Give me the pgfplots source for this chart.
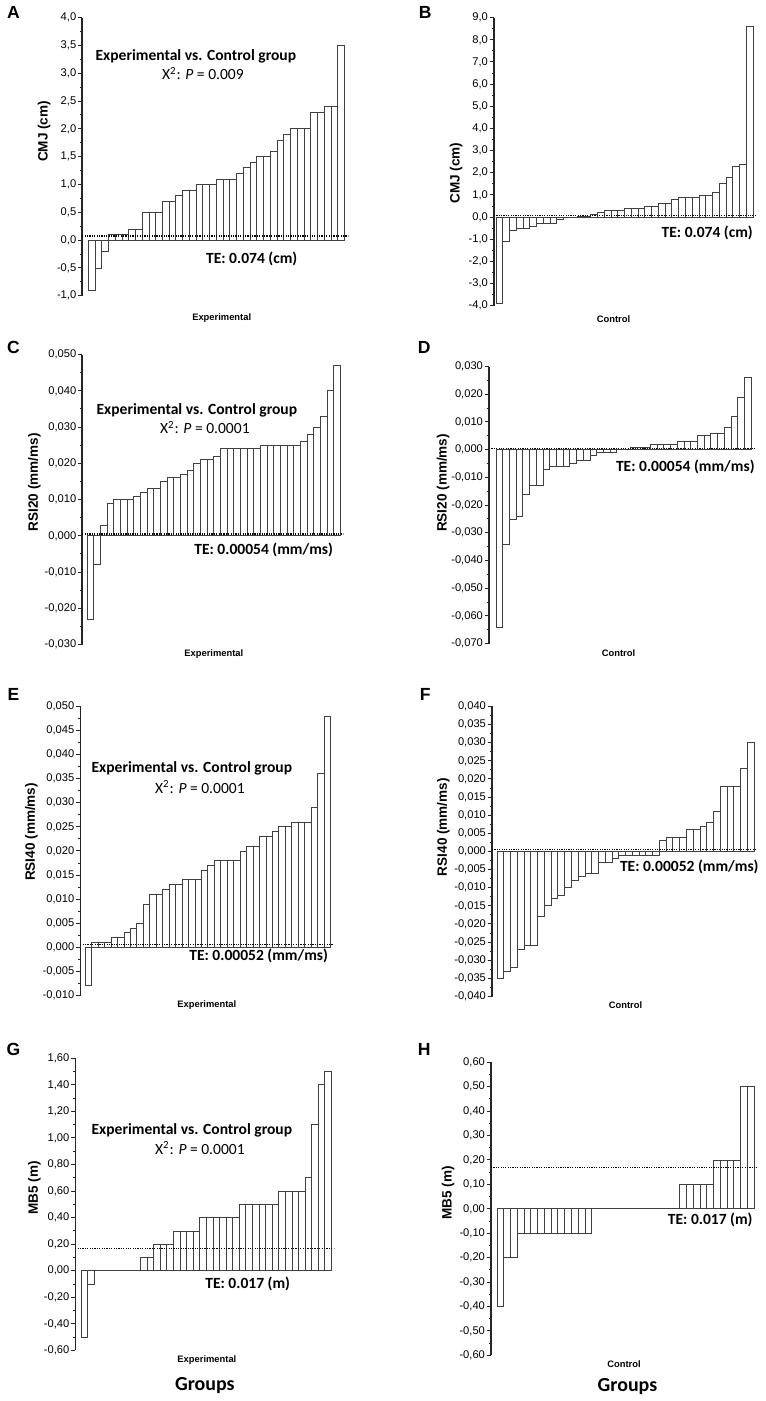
\documentclass[border=0pt]{standalone}
\usepackage{fontspec}
\setmainfont{Liberation Sans}
\newfontfamily\cali{Carlito}
\usepackage{pgfplots}
\usepackage{pgfplotstable}
\pgfplotsset{compat=1.18}

\pgfplotstableread[row sep=\\]{v\\-0.9\\-0.5\\-0.2\\0.1\\0.1\\0.1\\0.2\\0.2\\0.5\\0.5\\0.5\\0.7\\0.7\\0.8\\0.9\\0.9\\1.0\\1.0\\1.0\\1.1\\1.1\\1.1\\1.2\\1.3\\1.4\\1.5\\1.5\\1.6\\1.8\\1.9\\2.0\\2.0\\2.0\\2.3\\2.3\\2.4\\2.4\\3.5\\}\dA
\pgfplotstableread[row sep=\\]{v\\-3.9\\-1.1\\-0.6\\-0.5\\-0.5\\-0.4\\-0.3\\-0.3\\-0.3\\-0.1\\-0.02\\-0.02\\0.02\\0.05\\0.1\\0.2\\0.3\\0.3\\0.3\\0.4\\0.4\\0.4\\0.5\\0.5\\0.6\\0.6\\0.8\\0.9\\0.9\\0.9\\1.0\\1.0\\1.1\\1.5\\1.8\\2.3\\2.4\\8.6\\}\dB
\pgfplotstableread[row sep=\\]{v\\-0.023\\-0.008\\0.003\\0.009\\0.010\\0.010\\0.010\\0.011\\0.012\\0.013\\0.013\\0.015\\0.016\\0.016\\0.017\\0.018\\0.020\\0.021\\0.021\\0.022\\0.024\\0.024\\0.024\\0.024\\0.024\\0.024\\0.025\\0.025\\0.025\\0.025\\0.025\\0.025\\0.026\\0.028\\0.030\\0.033\\0.040\\0.047\\}\dC
\pgfplotstableread[row sep=\\]{v\\-0.064\\-0.034\\-0.025\\-0.024\\-0.016\\-0.013\\-0.013\\-0.007\\-0.006\\-0.006\\-0.006\\-0.005\\-0.004\\-0.004\\-0.002\\-0.001\\-0.001\\-0.001\\0\\0\\0.001\\0.001\\0.001\\0.002\\0.002\\0.002\\0.002\\0.003\\0.003\\0.003\\0.005\\0.005\\0.006\\0.006\\0.008\\0.012\\0.019\\0.026\\}\dD
\pgfplotstableread[row sep=\\]{v\\-0.008\\0.001\\0.001\\0.001\\0.002\\0.002\\0.003\\0.004\\0.005\\0.009\\0.011\\0.011\\0.012\\0.013\\0.013\\0.014\\0.014\\0.014\\0.016\\0.017\\0.018\\0.018\\0.018\\0.018\\0.020\\0.021\\0.021\\0.023\\0.023\\0.024\\0.025\\0.025\\0.026\\0.026\\0.026\\0.029\\0.036\\0.048\\}\dE
\pgfplotstableread[row sep=\\]{v\\-0.035\\-0.033\\-0.032\\-0.027\\-0.026\\-0.026\\-0.018\\-0.015\\-0.013\\-0.012\\-0.010\\-0.008\\-0.007\\-0.006\\-0.006\\-0.003\\-0.003\\-0.002\\-0.001\\-0.001\\-0.001\\-0.001\\-0.001\\-0.001\\0.003\\0.004\\0.004\\0.004\\0.006\\0.006\\0.007\\0.008\\0.011\\0.018\\0.018\\0.018\\0.023\\0.030\\}\dF
\pgfplotstableread[row sep=\\]{v\\-0.5\\-0.1\\0\\0\\0\\0\\0\\0\\0\\0.1\\0.1\\0.2\\0.2\\0.2\\0.3\\0.3\\0.3\\0.3\\0.4\\0.4\\0.4\\0.4\\0.4\\0.4\\0.5\\0.5\\0.5\\0.5\\0.5\\0.5\\0.6\\0.6\\0.6\\0.6\\0.7\\1.1\\1.4\\1.5\\}\dG
\pgfplotstableread[row sep=\\]{v\\-0.4\\-0.2\\-0.2\\-0.1\\-0.1\\-0.1\\-0.1\\-0.1\\-0.1\\-0.1\\-0.1\\-0.1\\-0.1\\-0.1\\0\\0\\0\\0\\0\\0\\0\\0\\0\\0\\0\\0\\0\\0.1\\0.1\\0.1\\0.1\\0.1\\0.2\\0.2\\0.2\\0.2\\0.5\\0.5\\}\dH

\pgfplotsset{
  panel/.style={
    scale only axis, anchor=north west,
    axis lines*=left,
    x axis line style={draw=none},
    y axis line style={line width=0.75pt, draw=black!85},
    xtick=\empty,
    ytick pos=left, tick align=outside,
    major tick length=2.2pt, minor tick length=1.2pt,
    minor y tick num=1,
    every tick/.style={draw=black!85, line width=0.5pt},
    scaled y ticks=false,
    ylabel style={font=\bfseries\fontsize{6.8}{7.5}\selectfont, anchor=center},
    xlabel style={font=\bfseries\fontsize{4.7}{5}\selectfont, anchor=center},
  },
  prec/.style={y tick label style={font=\fontsize{5.6}{6}\selectfont, inner sep=0.6pt, /pgf/number format/.cd, fixed, fixed zerofill, precision=#1, use comma, assume math mode=true, /tikz/.cd}},
  bars/.style={ybar, bar width=1, fill=white, draw=black!75, line width=0.4pt},
  te/.style={black, line width=0.6pt, dash pattern=on 0.6pt off 0.6pt},
}

\begin{document}
\begin{tikzpicture}
\path (0,0) rectangle (380pt,-700.5pt);

% A
\begin{axis}[panel, prec=1, at={(40pt,-8pt)}, width=133.5pt, height=139.5pt,
  xmin=-0.387, xmax=39.09, ymin=-1, ymax=4,
  ytick={-1,-0.5,0,0.5,1,1.5,2,2.5,3,3.5,4},
  ylabel={CMJ (cm)}, ylabel style={at={(axis description cs:-0.143,0.591)}},
  xlabel={Experimental}, xlabel style={at={(axis description cs:0.524,-0.082)}}]
\addplot[bars] table[x expr=\coordindex+1, y=v]{\dA};
\addplot[te] coordinates {(-0.387,0.074) (39.09,0.074)};
\end{axis}

% B
\begin{axis}[panel, prec=1, at={(246.5pt,-8pt)}, width=131.5pt, height=144.5pt,
  xmin=0.206, xmax=38.94, ymin=-4, ymax=9,
  ytick={-4,-3,-2,-1,0,1,2,3,4,5,6,7,8,9},
  ylabel={CMJ (cm)}, ylabel style={at={(axis description cs:-0.144,0.46)}},
  xlabel={Control}, xlabel style={at={(axis description cs:0.456,-0.045)}}]
\addplot[bars] table[x expr=\coordindex+1, y=v]{\dB};
\addplot[te] coordinates {(0.206,0.074) (38.94,0.074)};
\end{axis}

% C
\begin{axis}[panel, prec=3, at={(40pt,-177pt)}, width=131pt, height=145.5pt,
  xmin=-0.248, xmax=38.95, ymin=-0.03, ymax=0.05,
  ytick={-0.03,-0.02,-0.01,0,0.01,0.02,0.03,0.04,0.05},
  ylabel={RSI20 (mm/ms)}, ylabel style={at={(axis description cs:-0.183,0.56)}},
  xlabel={Experimental}, xlabel style={at={(axis description cs:0.504,-0.031)}}]
\addplot[bars] table[x expr=\coordindex+1, y=v]{\dC};
\addplot[te] coordinates {(-0.248,0.00054) (38.95,0.00054)};
\end{axis}

% D
\begin{axis}[panel, prec=3, at={(244pt,-183pt)}, width=133.5pt, height=139pt,
  xmin=-0.539, xmax=39.09, ymin=-0.07, ymax=0.03,
  ytick={-0.07,-0.06,-0.05,-0.04,-0.03,-0.02,-0.01,0,0.01,0.02,0.03},
  ylabel={RSI20 (mm/ms)}, ylabel style={at={(axis description cs:-0.172,0.58)}},
  xlabel={Control}, xlabel style={at={(axis description cs:0.487,-0.036)}}]
\addplot[bars] table[x expr=\coordindex+1, y=v]{\dD};
\addplot[te] coordinates {(-0.539,0.00054) (39.09,0.00054)};
\end{axis}

% E
\begin{axis}[panel, prec=3, at={(39pt,-353.5pt)}, width=127pt, height=145pt,
  xmin=-0.27, xmax=38.96, ymin=-0.01, ymax=0.05,
  ytick={-0.01,-0.005,0,0.005,0.01,0.015,0.02,0.025,0.03,0.035,0.04,0.045,0.05},
  ylabel={RSI40 (mm/ms)}, ylabel style={at={(axis description cs:-0.193,0.566)}},
  xlabel={Experimental}, xlabel style={at={(axis description cs:0.5,-0.034)}}]
\addplot[bars] table[x expr=\coordindex+1, y=v]{\dE};
\addplot[te] coordinates {(-0.27,0.00052) (38.96,0.00052)};
\end{axis}

% F
\begin{axis}[panel, prec=3, at={(245.5pt,-353.5pt)}, width=133pt, height=145.5pt,
  xmin=-0.236, xmax=38.94, ymin=-0.04, ymax=0.04,
  ytick={-0.04,-0.035,-0.03,-0.025,-0.02,-0.015,-0.01,-0.005,0,0.005,0.01,0.015,0.02,0.025,0.03,0.035,0.04},
  ylabel={RSI40 (mm/ms)}, ylabel style={at={(axis description cs:-0.183,0.584)}},
  xlabel={Control}, xlabel style={at={(axis description cs:0.504,-0.031)}}]
\addplot[bars] table[x expr=\coordindex+1, y=v]{\dF};
\addplot[te] coordinates {(-0.236,0.00052) (38.94,0.00052)};
\end{axis}

% G
\begin{axis}[panel, prec=2, at={(36.5pt,-530pt)}, width=130pt, height=146.5pt,
  xmin=-0.41, xmax=38.95, ymin=-0.6, ymax=1.6,
  ytick={-0.6,-0.4,-0.2,0,0.2,0.4,0.6,0.8,1.0,1.2,1.4,1.6},
  ylabel={MB5 (m)}, ylabel style={at={(axis description cs:-0.158,0.556)}},
  xlabel={Experimental}, xlabel style={at={(axis description cs:0.508,-0.034)}}]
\addplot[bars] table[x expr=\coordindex+1, y=v]{\dG};
\addplot[te] coordinates {(-0.41,0.17) (38.95,0.17)};
\end{axis}

% H
\begin{axis}[panel, prec=2, at={(245pt,-532pt)}, width=133.5pt, height=147pt,
  xmin=-0.384, xmax=38.94, ymin=-0.6, ymax=0.6,
  ytick={-0.6,-0.5,-0.4,-0.3,-0.2,-0.1,0,0.1,0.2,0.3,0.4,0.5,0.6},
  ylabel={MB5 (m)}, ylabel style={at={(axis description cs:-0.161,0.554)}},
  xlabel={Control}, xlabel style={at={(axis description cs:0.5,-0.03)}}]
\addplot[bars] table[x expr=\coordindex+1, y=v]{\dH};
\addplot[te] coordinates {(-0.384,0.17) (38.94,0.17)};
\end{axis}

\begin{scope}[x=0.5pt,y=-0.5pt]
\tikzset{lett/.style={font=\bfseries\fontsize{8.8}{9}\selectfont},
  ann/.style={font=\cali\bfseries\fontsize{7.8}{8}\selectfont},
  chi/.style={font=\cali\fontsize{7.8}{8}\selectfont},
  grp/.style={font=\cali\bfseries\fontsize{10}{11}\selectfont}}
\node[lett] at (11,11) {A};
\node[lett] at (424,11) {B};
\node[lett] at (11,347) {C};
\node[lett] at (423,347) {D};
\node[lett] at (11,695) {E};
\node[lett] at (424,695) {F};
\node[lett] at (11,1051) {G};
\node[lett] at (423,1051) {H};

\node[ann] at (194,55) {Experimental vs. Control group};
\node[chi] at (201,72) {X\textsuperscript{2}: \textit{P} = 0.009};
\node[ann] at (250,258) {TE: 0.074 (cm)};
\node[ann] at (707,232) {TE: 0.074 (cm)};

\node[ann] at (195,410) {Experimental vs. Control group};
\node[chi] at (203,427) {X\textsuperscript{2}: \textit{P} = 0.0001};
\node[ann] at (262,550) {TE: 0.00054 (mm/ms)};
\node[ann] at (685,467) {TE: 0.00054 (mm/ms)};

\node[ann] at (190,769) {Experimental vs. Control group};
\node[chi] at (198,788) {X\textsuperscript{2}: \textit{P} = 0.0001};
\node[ann] at (257,957) {TE: 0.00052 (mm/ms)};
\node[ann] at (689,868) {TE: 0.00052 (mm/ms)};

\node[ann] at (190,1132) {Experimental vs. Control group};
\node[chi] at (198,1150) {X\textsuperscript{2}: \textit{P} = 0.0001};
\node[ann] at (246,1286) {TE: 0.017 (m)};
\node[ann] at (710,1222) {TE: 0.017 (m)};

\node[grp] at (203,1388) {Groups};
\node[grp] at (627,1389) {Groups};
\end{scope}
\end{tikzpicture}
\end{document}
